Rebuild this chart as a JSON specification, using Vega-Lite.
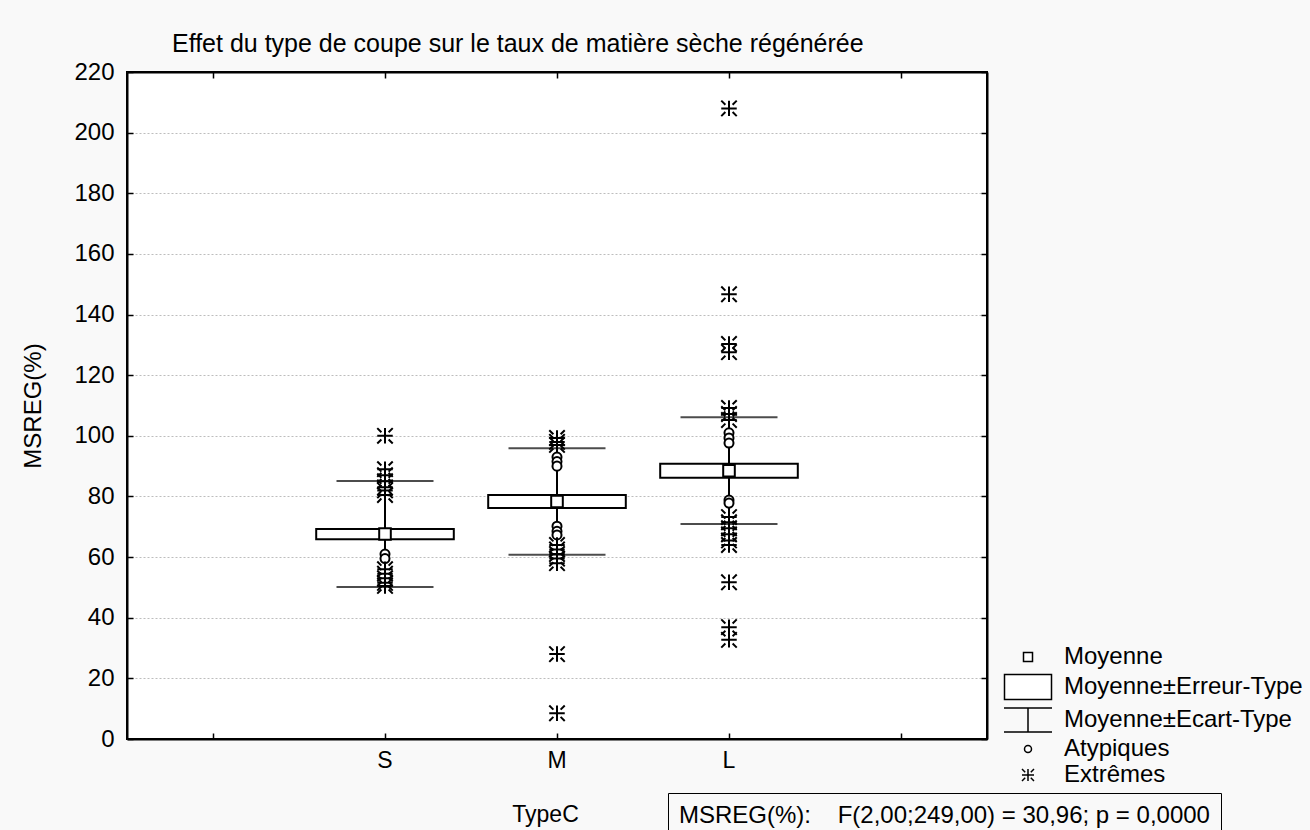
{
  "$schema": "https://vega.github.io/schema/vega-lite/v6.json",
  "width": 860,
  "height": 667,
  "autosize": "none",
  "padding": {"left": 127, "top": 72, "right": 323, "bottom": 91},
  "background": "#f9f9f9",
  "title": {
    "text": "Effet du type de coupe sur le taux de matière sèche régénérée",
    "anchor": "start",
    "frame": "group",
    "dx": 45,
    "offset": -17,
    "baseline": "alphabetic",
    "fontSize": 25,
    "fontWeight": "normal",
    "font": "Liberation Sans",
    "color": "black"
  },
  "datasets": {
    "summary": [
      {"TypeC": "S", "type": "Moyenne", "mean": 67.6, "se_lo": 65.9, "se_hi": 69.3, "sd_lo": 50.1, "sd_hi": 85.1},
      {"TypeC": "M", "type": "Moyenne", "mean": 78.35, "se_lo": 76.2, "se_hi": 80.5, "sd_lo": 60.8, "sd_hi": 95.9},
      {"TypeC": "L", "type": "Moyenne", "mean": 88.5, "se_lo": 86.2, "se_hi": 90.8, "sd_lo": 70.9, "sd_hi": 106.1}
    ],
    "outliers": [
      {"TypeC": "S", "type": "Extrêmes", "value": 100},
      {"TypeC": "S", "type": "Extrêmes", "value": 89},
      {"TypeC": "S", "type": "Extrêmes", "value": 87},
      {"TypeC": "S", "type": "Extrêmes", "value": 85},
      {"TypeC": "S", "type": "Extrêmes", "value": 83},
      {"TypeC": "S", "type": "Extrêmes", "value": 82},
      {"TypeC": "S", "type": "Extrêmes", "value": 80.5},
      {"TypeC": "S", "type": "Atypiques", "value": 61},
      {"TypeC": "S", "type": "Atypiques", "value": 59.5},
      {"TypeC": "S", "type": "Extrêmes", "value": 56},
      {"TypeC": "S", "type": "Extrêmes", "value": 54.5},
      {"TypeC": "S", "type": "Extrêmes", "value": 53},
      {"TypeC": "S", "type": "Extrêmes", "value": 51.5},
      {"TypeC": "S", "type": "Extrêmes", "value": 50.5},
      {"TypeC": "M", "type": "Extrêmes", "value": 99.3},
      {"TypeC": "M", "type": "Extrêmes", "value": 98},
      {"TypeC": "M", "type": "Extrêmes", "value": 97},
      {"TypeC": "M", "type": "Atypiques", "value": 93},
      {"TypeC": "M", "type": "Atypiques", "value": 91.5},
      {"TypeC": "M", "type": "Atypiques", "value": 90},
      {"TypeC": "M", "type": "Atypiques", "value": 70.2},
      {"TypeC": "M", "type": "Atypiques", "value": 68.5},
      {"TypeC": "M", "type": "Atypiques", "value": 67.3},
      {"TypeC": "M", "type": "Extrêmes", "value": 64},
      {"TypeC": "M", "type": "Extrêmes", "value": 62.5},
      {"TypeC": "M", "type": "Extrêmes", "value": 61},
      {"TypeC": "M", "type": "Extrêmes", "value": 59.5},
      {"TypeC": "M", "type": "Extrêmes", "value": 58},
      {"TypeC": "M", "type": "Extrêmes", "value": 28},
      {"TypeC": "M", "type": "Extrêmes", "value": 8.5},
      {"TypeC": "L", "type": "Extrêmes", "value": 208},
      {"TypeC": "L", "type": "Extrêmes", "value": 146.7},
      {"TypeC": "L", "type": "Extrêmes", "value": 130.3},
      {"TypeC": "L", "type": "Extrêmes", "value": 127.6},
      {"TypeC": "L", "type": "Extrêmes", "value": 109.2},
      {"TypeC": "L", "type": "Extrêmes", "value": 107.2},
      {"TypeC": "L", "type": "Extrêmes", "value": 105.2},
      {"TypeC": "L", "type": "Atypiques", "value": 101},
      {"TypeC": "L", "type": "Atypiques", "value": 99.3},
      {"TypeC": "L", "type": "Atypiques", "value": 97.6},
      {"TypeC": "L", "type": "Atypiques", "value": 78.8},
      {"TypeC": "L", "type": "Atypiques", "value": 77.8},
      {"TypeC": "L", "type": "Extrêmes", "value": 73.2},
      {"TypeC": "L", "type": "Extrêmes", "value": 71.5},
      {"TypeC": "L", "type": "Extrêmes", "value": 69.5},
      {"TypeC": "L", "type": "Extrêmes", "value": 67.5},
      {"TypeC": "L", "type": "Extrêmes", "value": 65.5},
      {"TypeC": "L", "type": "Extrêmes", "value": 64},
      {"TypeC": "L", "type": "Extrêmes", "value": 51.7},
      {"TypeC": "L", "type": "Extrêmes", "value": 36.9},
      {"TypeC": "L", "type": "Extrêmes", "value": 32.7}
    ]
  },
  "layer": [
    {
      "data": {"name": "summary"},
      "mark": {"type": "rule", "strokeWidth": 2},
      "encoding": {
        "x": {
          "field": "TypeC", "type": "nominal",
          "scale": {"domain": ["_a", "S", "M", "L", "_b"], "paddingInner": 0, "paddingOuter": 0},
          "axis": {
            "orient": "bottom",
            "labelExpr": "indexof(datum.label, '_') == 0 ? '' : datum.label",
            "labelAngle": 0,
            "labelPadding": 16,
            "title": "TypeC",
            "titlePadding": 31,
            "titleX": 418
          }
        },
        "y": {
          "field": "sd_lo", "type": "quantitative",
          "scale": {"domain": [0, 220], "nice": false, "zero": false},
          "axis": {
            "orient": "left",
            "values": [0, 20, 40, 60, 80, 100, 120, 140, 160, 180, 200, 220],
            "grid": true,
            "gridColor": "#bdbdbd",
            "gridDash": [2, 2],
            "gridWidth": 1,
            "labelPadding": 19,
            "labelFontSize": 24,
            "title": "MSREG(%)",
            "titleFontSize": 24,
            "titlePadding": 28
          }
        },
        "y2": {"field": "sd_hi"},
        "color": {
          "datum": "MSREG(%):\u00a0\u00a0\u00a0 F(2,00;249,00) = 30,96; p = 0,0000",
          "type": "nominal",
          "scale": {"range": ["black"]},
          "legend": {
            "orient": "none",
            "legendX": 541,
            "legendY": 721,
            "title": null,
            "strokeColor": "black",
            "padding": 11,
            "symbolSize": 0,
            "symbolOpacity": 0,
            "symbolStrokeWidth": 0,
            "labelOffset": -24,
            "labelFontSize": 24,
            "labelLimit": 1000,
            "labelColor": "black",
            "labelFont": "Liberation Sans"
          }
        }
      }
    },
    {
      "data": {"name": "summary"},
      "mark": {"type": "tick", "size": 97, "thickness": 2, "color": "black"},
      "encoding": {
        "x": {
          "field": "TypeC", "type": "nominal",
          "axis": {"orient": "top", "labels": false, "title": null, "grid": false}
        },
        "y": {
          "field": "sd_lo", "type": "quantitative",
          "axis": {"orient": "right", "labels": false, "title": null, "grid": false,
                   "values": [0, 20, 40, 60, 80, 100, 120, 140, 160, 180, 200, 220]}
        }
      }
    },
    {
      "data": {"name": "summary"},
      "mark": {"type": "tick", "size": 97, "thickness": 2, "color": "black"},
      "encoding": {
        "x": {"field": "TypeC", "type": "nominal", "axis": null},
        "y": {"field": "sd_hi", "type": "quantitative", "axis": null}
      }
    },
    {
      "data": {"name": "summary"},
      "mark": {"type": "bar", "width": {"band": 0.8}, "fill": "white", "stroke": "black", "strokeWidth": 2},
      "encoding": {
        "x": {"field": "TypeC", "type": "nominal", "axis": null},
        "y": {"field": "se_lo", "type": "quantitative", "axis": null},
        "y2": {"field": "se_hi"}
      }
    },
    {
      "data": {"name": "outliers"},
      "mark": {"type": "point", "filled": false, "fill": "white", "stroke": "black", "strokeWidth": 2, "size": 665, "opacity": 1},
      "encoding": {
        "x": {"field": "TypeC", "type": "nominal", "axis": null},
        "y": {"field": "value", "type": "quantitative", "axis": null},
        "shape": {
          "field": "type", "type": "nominal",
          "scale": {
            "domain": ["Moyenne", "Moyenne±Erreur-Type", "Moyenne±Ecart-Type", "Atypiques", "Extrêmes"],
            "range": [
              "M-0.45,-0.45H0.45V0.45H-0.45Z",
              "M-2.35,-1.25H2.35V1.25H-2.35Z",
              "M-2.4,-1.2H2.4M-2.4,1.2H2.4M0,-1.2V1.2",
              "M0.35,0A0.35,0.35 0 1,1 -0.35,0A0.35,0.35 0 1,1 0.35,0Z",
              "M-0.6,0H0.6M0,-0.6V0.6M-0.6,-0.6L-0.28,-0.28M0.28,0.28L0.6,0.6M-0.6,0.6L-0.28,0.28M0.28,-0.28L0.6,-0.6"
            ]
          },
          "legend": {
            "orient": "none",
            "legendX": 889,
            "legendY": 573,
            "title": null,
            "padding": 0,
            "symbolSize": 400,
            "labelOffset": 24,
            "labelFontSize": 24,
            "labelLimit": 1000,
            "labelColor": "black",
            "labelFont": "Liberation Sans",
            "rowPadding": 2,
            "encode": {
              "symbols": {
                "update": {
                  "stroke": {"value": "black"},
                  "strokeWidth": {"value": 1.5},
                  "fill": {"value": "white"},
                  "opacity": {"value": 1}
                }
              }
            }
          }
        }
      }
    },
    {
      "data": {"name": "summary"},
      "mark": {"type": "point", "filled": false, "fill": "white", "stroke": "black", "strokeWidth": 2, "size": 665, "opacity": 1},
      "encoding": {
        "x": {"field": "TypeC", "type": "nominal", "axis": null},
        "y": {"field": "mean", "type": "quantitative", "axis": null},
        "shape": {"field": "type", "type": "nominal"}
      }
    }
  ],
  "resolve": {"axis": {"x": "independent", "y": "independent"}},
  "config": {
    "font": "Liberation Sans",
    "view": {"stroke": "black", "strokeWidth": 2, "fill": "white"},
    "axis": {
      "domainColor": "black",
      "domainWidth": 2,
      "tickColor": "black",
      "tickWidth": 1.5,
      "tickSize": -6,
      "labelFont": "Liberation Sans",
      "labelFontSize": 23,
      "labelColor": "black",
      "titleFont": "Liberation Sans",
      "titleFontSize": 23,
      "titleFontWeight": "normal",
      "titleColor": "black"
    }
  }
}
